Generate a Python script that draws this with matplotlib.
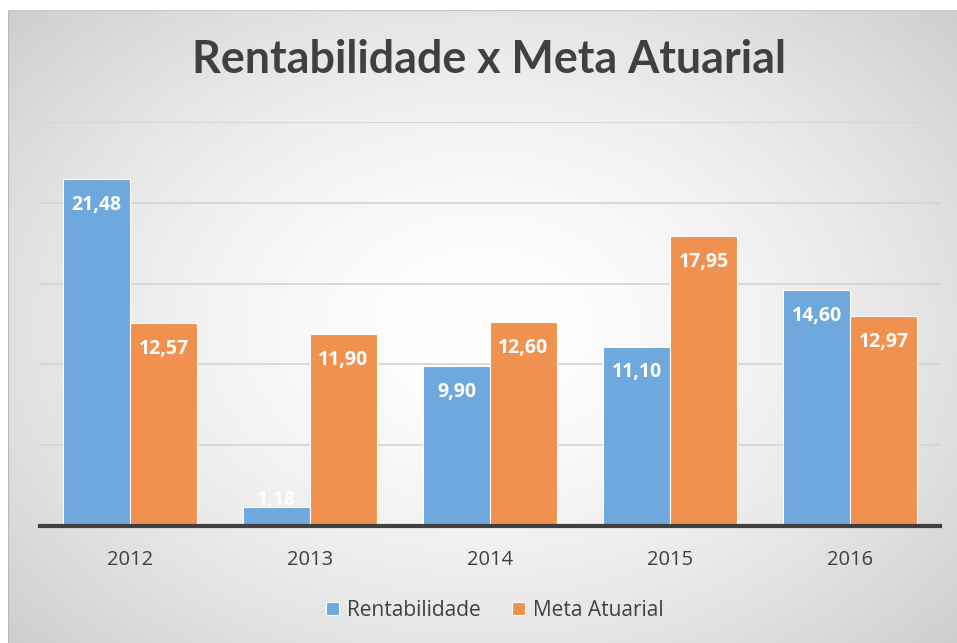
import numpy as np
import matplotlib
matplotlib.use("Agg")
import matplotlib.pyplot as plt

years = ["2012", "2013", "2014", "2015", "2016"]
rentabilidade = [21.48, 1.18, 9.90, 11.10, 14.60]
meta_atuarial = [12.57, 11.90, 12.60, 17.95, 12.97]
labels_rent = ["21,48", "1,18", "9,90", "11,10", "14,60"]
labels_meta = ["12,57", "11,90", "12,60", "17,95", "12,97"]

W, H = 957, 643
fig = plt.figure(figsize=(W / 100, H / 100), dpi=100)
fig.patch.set_facecolor("white")

# gradient background panel
bg = fig.add_axes([8 / W, 0, (W - 8) / W, 1 - 10 / H])
bg.set_axis_off()
yy, xx = np.mgrid[0:300, 0:450]
cx, cy = 225, 150
r = np.sqrt(((xx - cx) / 330.0) ** 2 + ((yy - cy) / 240.0) ** 2)
val = 1.0 - 0.22 * np.clip(r, 0, 1.4) ** 1.6
img = np.dstack([val, val, val])
bg.imshow(img, aspect="auto", extent=[0, 1, 0, 1], interpolation="bilinear")
bg.set_xlim(0, 1)
bg.set_ylim(0, 1)
bg.plot([0, 0], [0, 1], color="#b8b8b8", lw=1.5)
bg.plot([0, 1], [1, 1], color="#c8c8c8", lw=1.5)

ax = fig.add_axes([40 / W, 1 - 526 / H, 900 / W, (526 - 122) / H])
ax.patch.set_alpha(0)
x = np.arange(len(years))
bw = 0.372
blue = "#6fa8dc"
orange = "#f0914f"
b1 = ax.bar(x - bw / 2, rentabilidade, bw, color=blue, edgecolor="white", linewidth=0.8, label="Rentabilidade", zorder=3)
b2 = ax.bar(x + bw / 2, meta_atuarial, bw, color=orange, edgecolor="white", linewidth=0.8, label="Meta Atuarial", zorder=3)

off = 1.6  # label centre distance below bar top (data units)
for bars, labs in ((b1, labels_rent), (b2, labels_meta)):
    for rect, lab in zip(bars, labs):
        yc = max(rect.get_height() - off, off)
        ax.text(rect.get_x() + rect.get_width() / 2, yc, lab, ha="center", va="center",
                color="white", fontsize=14, fontweight="bold", family="Open Sans", zorder=4)

ax.set_xlim(-0.5, 4.5)
ax.set_ylim(0, 25)
ax.set_yticks([5, 10, 15, 20, 25])
ax.yaxis.grid(True, color="#d4d4d4", lw=1.2, zorder=0)
ax.tick_params(axis="y", left=False, labelleft=False)
ax.tick_params(axis="x", bottom=False, pad=14, labelsize=14.5, labelcolor="#404040")
ax.set_xticks(x)
ax.set_xticklabels(years, family="Open Sans")
for s in ["top", "right", "left"]:
    ax.spines[s].set_visible(False)
ax.spines["bottom"].set_color("#404040")
ax.spines["bottom"].set_linewidth(3)
ax.spines["bottom"].set_zorder(5)

fig.text(489 / W, 1 - 60 / H, "Rentabilidade x Meta Atuarial", ha="center", va="center",
         fontsize=32.3, fontweight="bold", color="#404040", family="Lato")

leg = fig.legend(handles=[b1, b2], labels=["Rentabilidade", "Meta Atuarial"], loc="center",
                 bbox_to_anchor=(495 / W, 1 - 610 / H), ncol=2, frameon=False,
                 prop={"family": "Open Sans", "size": 15}, handlelength=0.6, handleheight=0.6,
                 columnspacing=1.5, handletextpad=0.4)
for t in leg.get_texts():
    t.set_color("#404040")

fig.savefig("out.png", dpi=100)
